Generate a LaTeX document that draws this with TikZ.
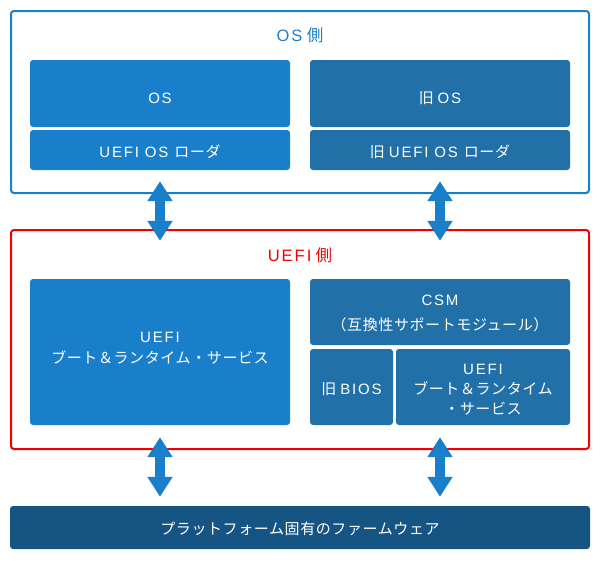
\documentclass[tikz,border=0pt]{standalone}
\usepackage{fontspec}
\setmainfont{Noto Sans CJK JP}[LetterSpace=4]
\newfontfamily\latinfont{Liberation Sans}[LetterSpace=12]
\newcommand\lat[1]{{\latinfont #1}}
\usetikzlibrary{arrows.meta}
\definecolor{uefiblue}{RGB}{26,127,203}
\definecolor{oldblue}{RGB}{33,112,168}
\definecolor{fwblue}{RGB}{22,85,131}
\definecolor{sidered}{RGB}{240,0,0}
\tikzset{
  frame/.style={draw, line width=2pt, rounded corners=3pt, inner sep=0pt},
  block/.style={fill=uefiblue, text=white, rounded corners=3pt, inner sep=0pt,
    align=center, font=\fontsize{15}{21}\selectfont},
  oldblock/.style={block, fill=oldblue},
  oneline/.style={text height=14pt, text depth=0pt},
  sidetitle/.style={font=\fontsize{16.5}{20}\selectfont},
  dblarrow/.style={draw=uefiblue, line width=10pt,
    {Triangle[width=24pt,length=20pt]}-{Triangle[width=24pt,length=20pt]}}
}
\begin{document}
\begin{tikzpicture}[x=1pt,y=-1pt]
  \useasboundingbox (0,0) rectangle (600,566);
  % side frames
  \node[frame, draw=uefiblue, minimum width=578pt, minimum height=182pt] (osside) at (300,102) {};
  \node[sidetitle, text=uefiblue] (ostitle) at (300,35) {\lat{OS} 側};
  \node[frame, draw=sidered, minimum width=578pt, minimum height=219pt] (uefiside) at (300,339.5) {};
  \node[sidetitle, text=sidered] (uefititle) at (300,255) {\lat{UEFI} 側};

  % OS side
  \node[block, oneline, minimum width=260pt, minimum height=67pt, text height=20pt] (os) at (160,93.5) {\lat{OS}};
  \node[block, oneline, minimum width=260pt, minimum height=40pt] (osloader) at (160,150) {\lat{UEFI OS }ローダ};
  \node[oldblock, oneline, minimum width=260pt, minimum height=67pt, text height=20pt] (oldos) at (440,93.5) {旧 \lat{OS}};
  \node[oldblock, oneline, minimum width=260pt, minimum height=40pt] (oldloader) at (440,150) {旧 \lat{UEFI OS }ローダ};

  % UEFI side
  \node[block, minimum width=260pt, minimum height=146pt, text depth=8pt] (uefisvc) at (160,352)
    {\lat{UEFI}\\ブート＆ランタイム・サービス};
  \node[oldblock, minimum width=260pt, minimum height=66pt, text height=38pt] (csm) at (440,312)
    {\lat{CSM}\\[4pt]（互換性サポートモジュール）};
  \node[oldblock, oneline, minimum width=83pt, minimum height=76pt] (oldbios) at (351.5,387) {旧 \lat{BIOS}};
  \node[oldblock, minimum width=174pt, minimum height=76pt, text height=55pt,
    font=\fontsize{15}{20}\selectfont] (csmuefi) at (483,387)
    {\lat{UEFI}\\ブート＆ランタイム\\・サービス};

  % firmware
  \node[block, oneline, fill=fwblue, minimum width=580pt, minimum height=43pt] (firmware) at (300,527.5)
    {プラットフォーム固有のファームウェア};

  % arrows
  \coordinate (a1) at ([yshift=-11pt]osloader.south);
  \coordinate (b1) at ([yshift=38pt]uefisvc.north);
  \coordinate (a2) at ([yshift=-11pt]oldloader.south);
  \coordinate (b2) at ([yshift=38pt]csm.north);
  \coordinate (c1) at ([yshift=-12pt]uefisvc.south);
  \coordinate (d1) at ([yshift=9pt]firmware.north -| uefisvc.south);
  \coordinate (c2) at ([yshift=-12pt]csmuefi.south -| csm.south);
  \coordinate (d2) at ([yshift=9pt]firmware.north -| csm.south);
  \draw[dblarrow] (a1) -- (b1);
  \draw[dblarrow] (a2) -- (b2);
  \draw[dblarrow] (c1) -- (d1);
  \draw[dblarrow] (c2) -- (d2);
\end{tikzpicture}
\end{document}
